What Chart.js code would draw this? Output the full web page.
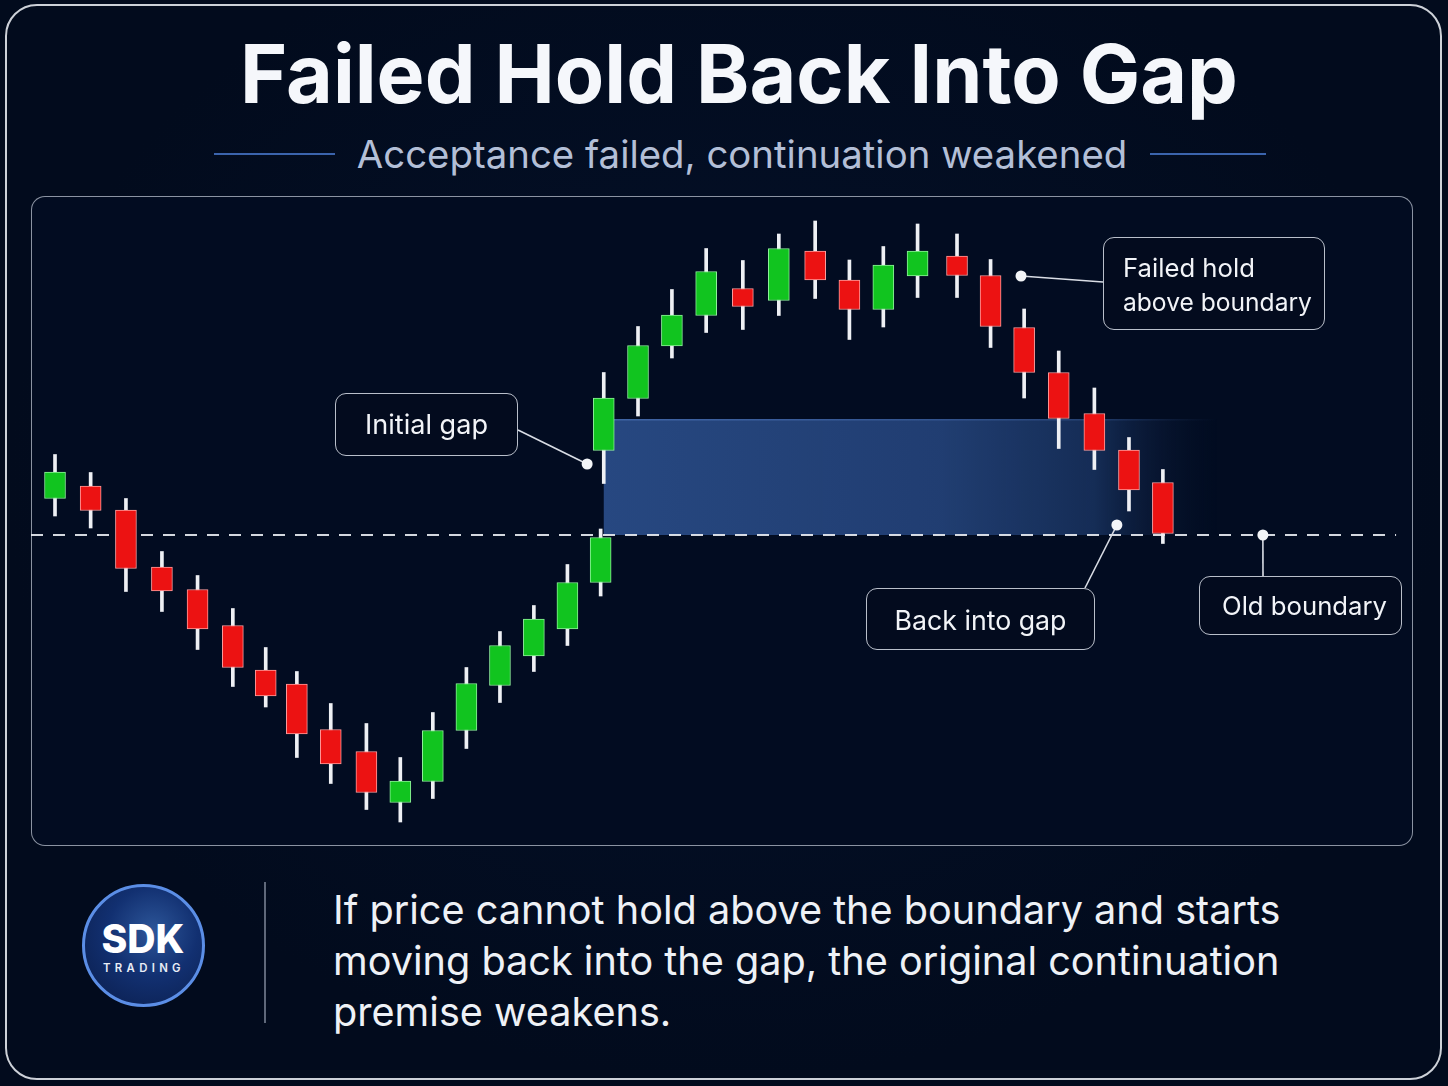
<!DOCTYPE html>
<html>
<head>
<meta charset="utf-8">
<script src="https://cdn.jsdelivr.net/npm/chart.js@4.4.1/dist/chart.umd.min.js"></script>
<style>
  html, body { margin:0; padding:0; background:#020b1d; }
  #root { position:relative; width:1448px; height:1086px; overflow:hidden;
    background: radial-gradient(ellipse at 50% 45%, #04112a 0%, #020b1d 70%); font-family: Inter, "Noto Sans", sans-serif; }
  .frame { position:absolute; left:5px; top:4px; width:1433px; height:1072px; border:2px solid #cdd1d8; border-radius:32px; }
  .panel { position:absolute; left:31px; top:196px; width:1380px; height:648px; border:1.5px solid rgba(185,192,205,0.75); border-radius:14px; background:#020c21; }
  #wrap { position:absolute; left:31px; top:196px; width:1382px; height:650px; }
  .fit { position:absolute; white-space:nowrap; line-height:1; }
  .box { position:absolute; border:1.5px solid #b9bfca; border-radius:11px; background:rgba(3,12,30,0.92); box-sizing:border-box; }
  .rule { position:absolute; height:2px; background:#3b64ad; }
</style>
</head>
<body>
<div id="root">
  <div class="frame"></div>
  <div class="fit" data-w="998" data-cx="739" data-b="104" data-fs="80" style="font-weight:700;color:#f5f7fb;">Failed Hold Back Into Gap</div>
  <div class="rule" style="left:214px;top:153px;width:121px;"></div>
  <div class="rule" style="left:1150px;top:153px;width:116px;"></div>
  <div class="fit" data-w="771" data-cx="742" data-b="168" data-fs="38" style="color:#b3bfd7;">Acceptance failed, continuation weakened</div>

  <div class="panel"></div>
  <div id="wrap"><canvas id="c"></canvas></div>

  <div class="box" style="left:335px;top:393px;width:183px;height:63px;"></div>
  <div class="fit" data-w="123" data-cx="426.5" data-b="434" data-fs="28" style="color:#f2f4f8;">Initial gap</div>

  <div class="box" style="left:1103px;top:237px;width:222px;height:93px;"></div>
  <div class="fit" data-w="132" data-x="1123" data-b="277" data-fs="27" style="color:#f2f4f8;">Failed hold</div>
  <div class="fit" data-w="189" data-x="1123" data-b="311" data-fs="27" style="color:#f2f4f8;">above boundary</div>

  <div class="box" style="left:866px;top:588px;width:229px;height:62px;"></div>
  <div class="fit" data-w="172" data-cx="980.5" data-b="630" data-fs="28" style="color:#f2f4f8;">Back into gap</div>

  <div class="box" style="left:1199px;top:576px;width:203px;height:59px;"></div>
  <div class="fit" data-w="165" data-cx="1304.5" data-b="615" data-fs="28" style="color:#f2f4f8;">Old boundary</div>

  <div style="position:absolute;left:82px;top:884px;width:117px;height:117px;border-radius:50%;border:3px solid #5b8ee6;background:radial-gradient(circle at 58% 38%, #2d5699 0%, #123071 45%, #0a1c48 100%);"></div>
  <div class="fit" data-w="83" data-cx="143" data-b="953" data-fs="40" style="font-weight:800;color:#ffffff;">SDK</div>
  <div class="fit" data-w="82" data-cx="144" data-b="973" data-fs="13" style="font-weight:600;color:#e8edf6;letter-spacing:0.38em;">TRADING</div>
  <div style="position:absolute;left:264px;top:882px;width:2px;height:141px;background:#5f687a;"></div>

  <div class="fit" id="f1" data-w="948" data-x="333" data-b="925" data-fs="38" style="color:#eef1f6;">If price cannot hold above the boundary and starts</div>
  <div class="fit" data-same="f1" data-x="333" data-b="976" style="color:#eef1f6;">moving back into the gap, the original continuation</div>
  <div class="fit" data-same="f1" data-x="333" data-b="1027" style="color:#eef1f6;">premise weakens.</div>
</div>

<script>
// ---- Data (price units, session index) ----
const slots  = [0,1.03,2.05,3.09,4.12,5.14,6.09,6.99,7.97,9.0,9.98,10.92,11.89,12.86,13.84,14.81,15.77,15.86,16.85,17.83,18.82,19.88,20.92,21.97,22.96,23.94,24.93,26.07,27.04,28.01,29.01,30.04,31.04,32.02];
const opens  = [69.5,72,67.2,55.8,51.3,44.1,35.2,32.4,23.3,18.9,8.7,12.9,23.1,32.1,38,43.4,52.7,79.1,89.5,100,106.1,111.5,109.1,119,113.2,107.3,114,118,114.1,103.7,94.7,86.5,79.2,72.7];
const closes = [74.8,67.1,55.5,51,43.4,35.7,30,22.4,16.4,10.7,13,23.1,32.5,40.1,45.4,52.7,61.7,89.6,100.1,106.2,114.9,107.9,119.5,113.2,107.3,116.2,119,114.1,103.9,94.7,85.5,79.1,71.2,62.5];
const highs  = [78.3,74.7,69.5,58.9,54.1,47.5,39.7,34.9,28.5,24.5,17.7,26.7,35.7,42.9,48.1,56.3,63.4,94.7,103.9,111.3,119.5,117.1,122.4,125,117.2,119.9,124.4,122.4,117.3,107.4,99,91.6,81.7,75.3];
const lows   = [66,63.6,50.9,46.9,39.3,31.9,27.8,17.7,12.5,7.3,4.8,9.5,19.5,28.7,34.9,40.1,50,72.5,86,97.6,102.7,103.3,106.1,109.5,101.3,103.8,109.7,109.7,99.7,89.6,79.5,75.3,67,60.5];

const boundaryLevel = 62.2;
const gapTop = 85.4;
const gapStartSlot = 15.86;
const gapFadeSlot = 33.6;
const boundaryEndSlot = 38.76;

// annotation anchors (slot, price) and label-side endpoints (page px)
const anchors = [
  { slot: 15.38, price: 76.4, to: [518, 430] },
  { slot: 27.92, price: 114.0, to: [1103, 282] },
  { slot: 30.69, price: 64.2, to: [1085, 588] },
  { slot: 34.91, price: 62.2, to: [1263, 576] }
];
const WRAP_X = 31, WRAP_Y = 196;

// ---- text fitting ----
const ASC = 0.8633;
function fitAll(){
  const els = document.querySelectorAll('.fit');
  els.forEach(el => {
    if (el.dataset.same) return;
    let fs = parseFloat(el.dataset.fs);
    el.style.fontSize = fs + 'px';
    const w = el.getBoundingClientRect().width;
    fs = fs * parseFloat(el.dataset.w) / w;
    el.style.fontSize = fs + 'px';
    el._fs = fs;
  });
  els.forEach(el => {
    if (el.dataset.same) { el._fs = document.getElementById(el.dataset.same)._fs; el.style.fontSize = el._fs + 'px'; }
    const fs = el._fs;
    const w = el.getBoundingClientRect().width;
    const b = parseFloat(el.dataset.b);
    el.style.top = (b - ASC * fs) + 'px';
    if (el.dataset.cx) el.style.left = (parseFloat(el.dataset.cx) - w / 2) + 'px';
    else el.style.left = parseFloat(el.dataset.x) + 'px';
  });
}

const bodyData = slots.map((s, i) => ({ x: s, y: [opens[i], closes[i]] }));
const wickData = slots.map((s, i) => ({ x: s, y: [lows[i], highs[i]] }));
const up = slots.map((s, i) => closes[i] >= opens[i]);

const overlay = {
  id: 'overlay',
  beforeDatasetsDraw(chart) {
    const { ctx, scales: { x, y } } = chart;
    const x0 = x.getPixelForValue(gapStartSlot), x1 = x.getPixelForValue(gapFadeSlot);
    const yT = y.getPixelForValue(gapTop), yB = y.getPixelForValue(boundaryLevel);
    const g = ctx.createLinearGradient(x0, 0, x1, 0);
    g.addColorStop(0, 'rgba(40,74,132,0.97)');
    g.addColorStop(0.55, 'rgba(35,66,120,0.93)');
    g.addColorStop(0.8, 'rgba(28,56,104,0.75)');
    g.addColorStop(1, 'rgba(8,22,50,0)');
    ctx.save();
    ctx.fillStyle = g;
    ctx.fillRect(x0, yT, x1 - x0, yB - yT);
    const g2 = ctx.createLinearGradient(x0, 0, x1, 0);
    g2.addColorStop(0, 'rgba(80,120,190,0.6)');
    g2.addColorStop(0.75, 'rgba(80,120,190,0.3)');
    g2.addColorStop(1, 'rgba(80,120,190,0)');
    ctx.fillStyle = g2;
    ctx.fillRect(x0, yT, x1 - x0, 1.5);
    // dashed boundary
    ctx.strokeStyle = 'rgba(235,238,244,0.9)';
    ctx.lineWidth = 2;
    ctx.setLineDash([12, 10]);
    ctx.beginPath();
    ctx.moveTo(chart.chartArea.left, yB);
    ctx.lineTo(x.getPixelForValue(boundaryEndSlot), yB);
    ctx.stroke();
    ctx.restore();
  },
  afterDatasetsDraw(chart) {
    const { ctx, scales: { x, y } } = chart;
    ctx.save();
    anchors.forEach(a => {
      const px = x.getPixelForValue(a.slot), py = y.getPixelForValue(a.price);
      ctx.strokeStyle = '#d9dde5';
      ctx.lineWidth = 1.6;
      ctx.beginPath();
      ctx.moveTo(px, py);
      ctx.lineTo(a.to[0] - WRAP_X, a.to[1] - WRAP_Y);
      ctx.stroke();
      ctx.fillStyle = '#f3f5f8';
      ctx.beginPath();
      ctx.arc(px, py, 5.5, 0, Math.PI * 2);
      ctx.fill();
    });
    ctx.restore();
  }
};

fitAll();
if (document.fonts && document.fonts.ready) document.fonts.ready.then(fitAll);

new Chart(document.getElementById('c'), {
  type: 'bar',
  data: {
    datasets: [
      {
        label: 'body', data: bodyData, barThickness: 21, borderWidth: 1, borderSkipped: false,
        backgroundColor: up.map(u => u ? '#11c41f' : '#ec1212'),
        borderColor: up.map(u => u ? '#8ef09a' : '#ff9d9d')
      },
      {
        label: 'wick', data: wickData, barThickness: 3, borderWidth: 0,
        backgroundColor: '#eef0f4'
      }
    ]
  },
  options: {
    responsive: true, maintainAspectRatio: false, animation: false,
    grouped: false,
    layout: { padding: 0 },
    plugins: { legend: { display: false }, tooltip: { enabled: false } },
    scales: {
      x: { type: 'linear', min: -0.694, max: 39.249, offset: false, display: false },
      y: { type: 'linear', min: 0, max: 130, display: false }
    }
  },
  plugins: [overlay]
});
</script>
</body>
</html>
